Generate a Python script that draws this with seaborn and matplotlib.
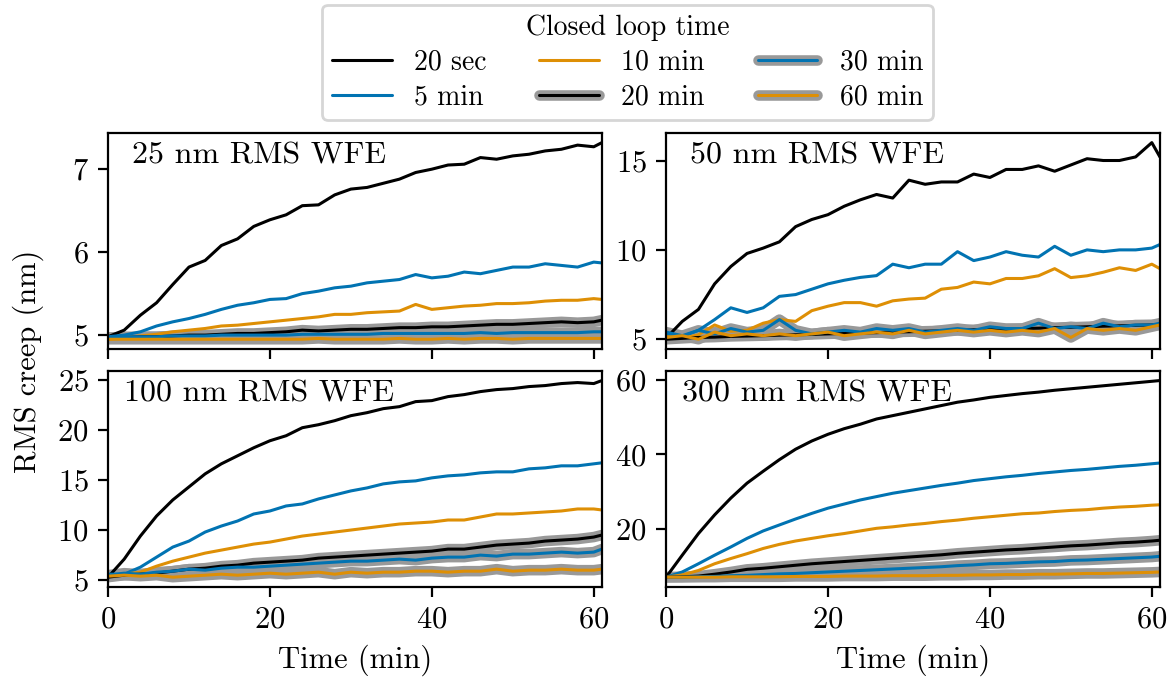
import matplotlib.pyplot as plt
import matplotlib.patheffects as pe
from matplotlib.lines import Line2D
import seaborn as sns

# time axis (min)
T = [0, 2, 4, 6, 8, 10, 12, 14, 16, 18, 20, 22, 24, 26, 28, 30,
     32, 34, 36, 38, 40, 42, 44, 46, 48, 50, 52, 54, 56, 58, 60, 61]

labels = ["20 sec", "5 min", "10 min", "20 min", "30 min", "60 min"]
panel_titles = ["25 nm RMS WFE", "50 nm RMS WFE", "100 nm RMS WFE", "300 nm RMS WFE"]
yticks = [[5, 6, 7], [5, 10, 15], [5, 10, 15, 20, 25], [20, 40, 60]]

# 25 nm RMS WFE
w25_20s = [4.98, 5.06, 5.24, 5.39, 5.61, 5.82, 5.90, 6.08, 6.16, 6.31, 6.39, 6.45, 6.56, 6.57, 6.69, 6.76,
           6.78, 6.83, 6.88, 6.96, 7.00, 7.05, 7.06, 7.14, 7.12, 7.16, 7.18, 7.22, 7.24, 7.29, 7.27, 7.32]
w25_5m = [4.98, 5.00, 5.04, 5.11, 5.16, 5.20, 5.25, 5.31, 5.36, 5.39, 5.43, 5.44, 5.50, 5.53, 5.57, 5.59,
          5.63, 5.65, 5.67, 5.73, 5.69, 5.71, 5.76, 5.74, 5.78, 5.82, 5.82, 5.86, 5.84, 5.82, 5.88, 5.87]
w25_10m = [4.95, 4.97, 4.99, 5.01, 5.04, 5.06, 5.08, 5.11, 5.12, 5.14, 5.16, 5.18, 5.20, 5.22, 5.25, 5.25,
           5.27, 5.28, 5.29, 5.37, 5.31, 5.33, 5.35, 5.36, 5.38, 5.38, 5.39, 5.41, 5.42, 5.42, 5.44, 5.43]
w25_20m = [4.97, 4.97, 4.98, 4.98, 4.99, 5.00, 5.00, 5.01, 5.02, 5.02, 5.03, 5.04, 5.06, 5.05, 5.06, 5.07,
           5.07, 5.08, 5.09, 5.09, 5.10, 5.10, 5.11, 5.12, 5.13, 5.13, 5.14, 5.15, 5.16, 5.15, 5.16, 5.18]
w25_30m = [4.97, 4.98, 4.98, 4.98, 4.99, 4.99, 4.99, 5.00, 5.00, 5.00, 5.00, 5.00, 5.01, 5.01, 5.01, 5.01,
           5.01, 5.02, 5.02, 5.02, 5.02, 5.02, 5.02, 5.03, 5.02, 5.03, 5.03, 5.03, 5.03, 5.03, 5.04, 5.04]
w25_60m = [4.95, 4.95, 4.95, 4.95, 4.95, 4.95, 4.95, 4.95, 4.95, 4.95, 4.95, 4.95, 4.95, 4.96, 4.95, 4.95,
           4.95, 4.95, 4.96, 4.95, 4.95, 4.96, 4.95, 4.96, 4.96, 4.95, 4.96, 4.96, 4.96, 4.96, 4.96, 4.96]

# 50 nm RMS WFE
w50_20s = [5.06, 6.0, 6.67, 8.1, 9.07, 9.8, 10.1, 10.45, 11.3, 11.7, 11.97, 12.44, 12.8, 13.1, 12.9, 13.9,
           13.67, 13.8, 13.8, 14.24, 14.05, 14.5, 14.5, 14.7, 14.4, 14.75, 15.1, 15.0, 15.0, 15.2, 16.0, 15.2]
w50_5m = [5.3, 5.15, 5.5, 6.1, 6.76, 6.5, 6.76, 7.4, 7.5, 7.8, 8.1, 8.3, 8.46, 8.56, 9.2, 9.0,
          9.2, 9.2, 9.9, 9.4, 9.6, 9.9, 9.7, 9.6, 10.2, 9.7, 10.0, 9.9, 10.0, 10.0, 10.1, 10.3]
w50_10m = [5.15, 5.05, 5.25, 5.8, 5.45, 5.5, 5.9, 6.1, 6.0, 6.6, 6.85, 7.05, 7.05, 6.85, 7.15, 7.25,
           7.3, 7.8, 7.9, 8.2, 8.1, 8.4, 8.4, 8.55, 8.95, 8.45, 8.55, 8.75, 9.0, 8.85, 9.2, 8.95]
w50_20m = [5.0, 5.05, 5.1, 5.12, 5.16, 5.18, 5.2, 5.23, 5.25, 5.27, 5.3, 5.33, 5.35, 5.37, 5.4, 5.42,
           5.45, 5.47, 5.5, 5.53, 5.55, 5.57, 5.6, 5.62, 5.65, 5.67, 5.7, 5.73, 5.75, 5.78, 5.8, 5.82]
w50_30m = [5.4, 5.2, 5.5, 5.3, 5.6, 5.4, 5.5, 6.1, 5.5, 5.3, 5.4, 5.5, 5.4, 5.6, 5.5, 5.6,
           5.4, 5.5, 5.6, 5.5, 5.7, 5.6, 5.6, 5.9, 5.6, 5.7, 5.6, 5.9, 5.7, 5.8, 5.8, 5.9]
w50_60m = [5.1, 5.2, 5.0, 5.4, 5.2, 5.3, 5.2, 5.3, 5.2, 5.3, 5.4, 5.2, 5.3, 5.4, 5.3, 5.5,
           5.3, 5.4, 5.5, 5.4, 5.5, 5.4, 5.5, 5.4, 5.6, 5.1, 5.6, 5.5, 5.6, 5.5, 5.7, 5.8]

# 100 nm RMS WFE
w100_20s = [5.3, 7.1, 9.4, 11.4, 13.0, 14.3, 15.6, 16.6, 17.4, 18.2, 18.9, 19.4, 20.2, 20.5, 20.9, 21.4,
            21.7, 22.1, 22.3, 22.8, 22.9, 23.3, 23.5, 23.8, 24.0, 24.1, 24.3, 24.4, 24.6, 24.7, 24.6, 24.9]
w100_5m = [5.6, 5.6, 6.3, 7.3, 8.3, 8.9, 9.8, 10.4, 10.9, 11.6, 11.9, 12.4, 12.6, 13.1, 13.5, 13.9,
           14.2, 14.6, 14.8, 14.9, 15.2, 15.4, 15.5, 15.7, 15.8, 15.8, 16.1, 16.2, 16.4, 16.4, 16.6, 16.7]
w100_10m = [5.4, 5.6, 5.8, 6.4, 6.9, 7.3, 7.7, 8.0, 8.3, 8.6, 8.8, 9.1, 9.4, 9.6, 9.8, 10.0,
            10.2, 10.4, 10.6, 10.7, 10.8, 11.0, 11.0, 11.3, 11.6, 11.6, 11.7, 11.8, 11.9, 12.1, 12.1, 12.0]
w100_20m = [5.3, 5.5, 5.6, 5.7, 5.9, 6.1, 6.2, 6.4, 6.5, 6.7, 6.8, 6.9, 7.0, 7.2, 7.3, 7.4,
            7.5, 7.6, 7.7, 7.8, 7.9, 8.1, 8.1, 8.3, 8.5, 8.6, 8.7, 8.9, 9.0, 9.1, 9.3, 9.5]
w100_30m = [5.5, 5.7, 5.6, 5.8, 5.9, 6.1, 6.0, 6.2, 6.3, 6.3, 6.4, 6.5, 6.6, 6.7, 6.8, 6.9,
            6.9, 7.0, 7.1, 7.0, 7.2, 7.3, 7.3, 7.5, 7.4, 7.6, 7.6, 7.7, 7.8, 7.7, 7.8, 8.1]
w100_60m = [5.4, 5.5, 5.4, 5.5, 5.3, 5.4, 5.5, 5.6, 5.5, 5.6, 5.7, 5.6, 5.7, 5.8, 5.6, 5.8,
            5.7, 5.8, 5.8, 5.9, 5.9, 5.8, 5.9, 5.9, 6.1, 5.9, 6.0, 6.0, 6.1, 6.0, 6.0, 6.1]

# 300 nm RMS WFE
w300_20s = [7.1, 13.0, 18.8, 23.8, 28.3, 32.3, 35.5, 38.6, 41.4, 43.6, 45.4, 46.9, 48.1, 49.5, 50.4, 51.3,
            52.2, 53.1, 54.0, 54.6, 55.3, 55.8, 56.3, 56.7, 57.2, 57.6, 58.0, 58.4, 58.8, 59.2, 59.6, 59.8]
w300_5m = [7.1, 8.5, 10.7, 13.0, 15.2, 17.5, 19.5, 21.1, 22.7, 24.2, 25.6, 26.7, 27.8, 28.7, 29.6, 30.3,
           31.0, 31.7, 32.3, 33.0, 33.5, 34.0, 34.4, 34.9, 35.3, 35.7, 36.0, 36.4, 36.8, 37.1, 37.5, 37.7]
w300_10m = [7.1, 7.7, 8.9, 10.7, 12.1, 13.4, 14.8, 15.9, 16.8, 17.5, 18.2, 18.8, 19.5, 20.2, 20.6, 21.1,
            21.5, 22.0, 22.4, 22.9, 23.3, 23.7, 24.1, 24.3, 24.7, 25.0, 25.2, 25.6, 25.9, 26.1, 26.4, 26.5]
w300_20m = [7.1, 7.2, 7.4, 7.9, 8.5, 9.2, 9.5, 9.9, 10.3, 10.7, 11.0, 11.3, 11.6, 11.9, 12.2, 12.5,
            12.8, 13.1, 13.5, 13.8, 14.1, 14.4, 14.6, 14.9, 15.2, 15.5, 15.7, 16.0, 16.3, 16.5, 16.8, 17.0]
w300_30m = [7.1, 7.1, 7.2, 7.3, 7.5, 7.6, 7.8, 8.0, 8.1, 8.3, 8.5, 8.7, 8.9, 9.1, 9.3, 9.5,
            9.7, 9.9, 10.2, 10.4, 10.7, 10.8, 11.0, 11.2, 11.3, 11.6, 11.7, 11.9, 12.1, 12.3, 12.5, 12.7]
w300_60m = [7.1, 7.1, 7.1, 7.1, 7.2, 7.2, 7.2, 7.2, 7.3, 7.3, 7.3, 7.4, 7.4, 7.4, 7.5, 7.5,
            7.5, 7.6, 7.6, 7.7, 7.7, 7.8, 7.8, 7.9, 7.9, 8.0, 8.1, 8.1, 8.2, 8.3, 8.4, 8.5]

panels = [
    [w25_20s, w25_5m, w25_10m, w25_20m, w25_30m, w25_60m],
    [w50_20s, w50_5m, w50_10m, w50_20m, w50_30m, w50_60m],
    [w100_20s, w100_5m, w100_10m, w100_20m, w100_30m, w100_60m],
    [w300_20s, w300_5m, w300_10m, w300_20m, w300_30m, w300_60m],
]

cb = sns.color_palette("colorblind")
colors = ["black", cb[0], cb[1], "black", cb[0], cb[1]]
thick = [False, False, False, True, True, True]
halo = "0.6"

sns.set_style("ticks", rc={"axes.edgecolor": "black", "text.color": "black",
                           "axes.labelcolor": "black", "xtick.color": "black",
                           "ytick.color": "black"})
plt.rcParams.update({"font.family": "serif", "font.serif": ["cmr10"],
                     "mathtext.fontset": "cm", "axes.formatter.use_mathtext": True,
                     "font.size": 11, "axes.linewidth": 0.8,
                     "xtick.major.width": 0.8, "ytick.major.width": 0.8,
                     "xtick.major.size": 3.5, "ytick.major.size": 3.5})

fig, axes = plt.subplots(2, 2, figsize=(5.87, 3.405), dpi=200)
fig.subplots_adjust(left=0.092, right=0.988, top=0.805, bottom=0.138,
                    wspace=0.13, hspace=0.1)

for i, ax in enumerate(axes.flat):
    series = panels[i]
    # grey halos first, then all coloured lines on top
    for y, tk in zip(series, thick):
        if tk:
            sns.lineplot(x=T, y=y, color=halo, lw=3.8, ax=ax, errorbar=None)
    for y, c in zip(series, colors):
        sns.lineplot(x=T, y=y, color=c, lw=1.1, ax=ax, errorbar=None)
    ax.set_xlim(0, 61)
    ax.set_xticks([0, 20, 40, 60])
    ax.set_yticks(yticks[i])
    ax.set_ylabel("")
    ax.text(0.305, 0.955, panel_titles[i], transform=ax.transAxes,
            ha="center", va="top", fontsize=11.5)
    if i < 2:
        ax.set_xticklabels([])
        ax.set_xlabel("")
    else:
        ax.set_xlabel("Time (min)")

fig.text(0.024, 0.47, "RMS creep (nm)", rotation=90, ha="center", va="center", fontsize=11)

handles = []
for c, tk in zip(colors, thick):
    fx = [pe.Stroke(linewidth=3.8, foreground=halo), pe.Normal()] if tk else None
    handles.append(Line2D([], [], color=c, lw=1.1, path_effects=fx))

fig.legend(handles, labels, ncol=3, title="Closed loop time", loc="upper center",
           bbox_to_anchor=(0.5345, 0.993), borderaxespad=0.0,
           fontsize=10, title_fontsize=10,
           handlelength=2.15, columnspacing=1.9, handletextpad=0.8,
           borderpad=0.35, labelspacing=0.3)

fig.savefig("out.png", dpi=200)
